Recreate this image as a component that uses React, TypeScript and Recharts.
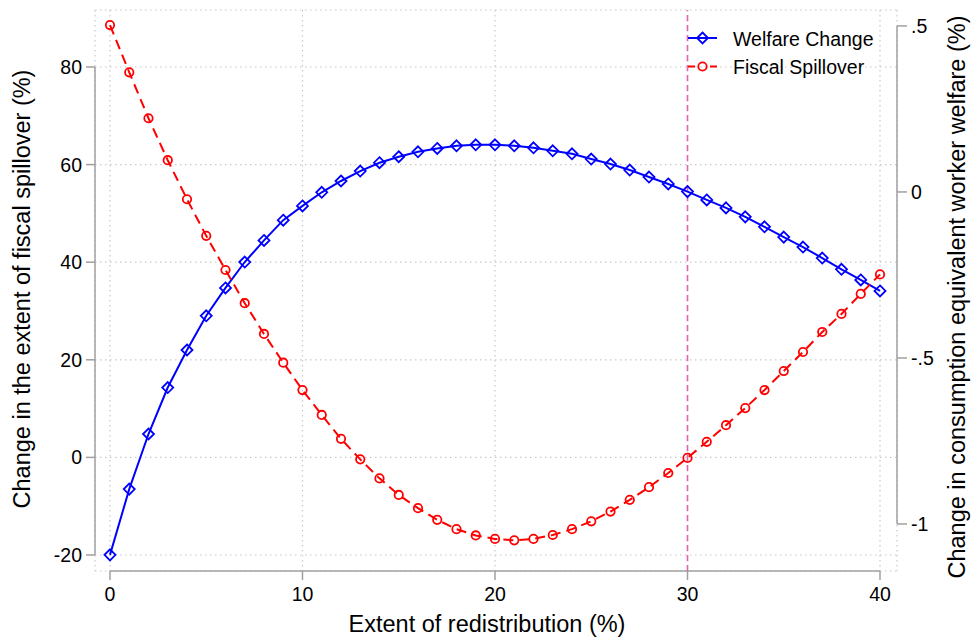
import React from 'react';
import { ComposedChart, Line, XAxis, YAxis, CartesianGrid, ReferenceLine, Label } from 'recharts';

const redistribution = [0,1,2,3,4,5,6,7,8,9,10,11,12,13,14,15,16,17,18,19,20,21,22,23,24,25,26,27,28,29,30,31,32,33,34,35,36,37,38,39,40];
const fiscalSpillover = [88.6,78.9,69.5,60.9,52.9,45.4,38.4,31.6,25.3,19.4,13.8,8.7,3.8,-0.4,-4.3,-7.7,-10.4,-12.8,-14.7,-16.0,-16.7,-17.0,-16.7,-15.9,-14.7,-13.1,-11.1,-8.7,-6.1,-3.2,-0.1,3.2,6.6,10.1,13.8,17.7,21.6,25.7,29.4,33.5,37.5];
const welfareChange = [-1.093,-0.895,-0.729,-0.589,-0.476,-0.373,-0.289,-0.211,-0.146,-0.085,-0.042,-0.001,0.033,0.063,0.088,0.106,0.121,0.131,0.139,0.142,0.142,0.139,0.133,0.124,0.115,0.099,0.084,0.066,0.045,0.024,0.001,-0.024,-0.048,-0.075,-0.105,-0.136,-0.166,-0.199,-0.233,-0.265,-0.298];
const xTicks = [0,10,20,30,40];
const leftTicks = [-20,0,20,40,60,80];
const rightTicks = [-1,-0.5,0,0.5];
const markerLine = 30;
const legendLabels = ['Welfare Change', 'Fiscal Spillover'];

const data = redistribution.map((x, i) => ({ x, fiscal: fiscalSpillover[i], welfare: welfareChange[i] }));

const X_DOMAIN: [number, number] = [-0.779, 40.883];
const LEFT_DOMAIN: [number, number] = [-23.28, 91.68];
const RIGHT_DOMAIN: [number, number] = [-1.1416, 0.548];

const BLUE = '#0000ff';
const RED = '#ff0000';
const PINK = '#e065ab';
const AXIS = '#a0a0a0';
const FONT = '"Liberation Sans", Arial, sans-serif';

const Diamond = (props: any) => {
  const { cx, cy, index } = props;
  if (cx == null || cy == null) return <g key={`d${index}`} />;
  const r = 5.5;
  return <path key={`d${index}`} d={`M${cx},${cy - r}L${cx + r},${cy}L${cx},${cy + r}L${cx - r},${cy}Z`} fill="none" stroke={BLUE} strokeWidth={1.8} />;
};

const Circ = (props: any) => {
  const { cx, cy, index } = props;
  if (cx == null || cy == null) return <g key={`c${index}`} />;
  return <circle key={`c${index}`} cx={cx} cy={cy} r={4.2} fill="none" stroke={RED} strokeWidth={1.8} />;
};

const fmtRight = (v: number) => (v === 0 ? '0' : String(v).replace('0.', '.'));

const LegendBox = () => (
  <g transform="translate(680,20)" fontFamily={FONT}>
    <line x1={8} y1={18} x2={37} y2={18} stroke={BLUE} strokeWidth={2} />
    <path d="M22.5,12.5L28,18L22.5,23.5L17,18Z" fill="none" stroke={BLUE} strokeWidth={1.8} />
    <text x={53} y={25.5} fontSize={19.5} fill="#000">{legendLabels[0]}</text>
    <line x1={8} y1={46.5} x2={15} y2={46.5} stroke={RED} strokeWidth={2} />
    <line x1={30} y1={46.5} x2={37} y2={46.5} stroke={RED} strokeWidth={2} />
    <circle cx={22.5} cy={46.5} r={4.2} fill="none" stroke={RED} strokeWidth={1.8} />
    <text x={53} y={54} fontSize={19.5} fill="#000">{legendLabels[1]}</text>
  </g>
);

export default function App() {
  return (
    <div style={{ position: 'absolute', left: 0, top: 0, width: 974, height: 640, background: '#fff', fontFamily: FONT }}>
      <ComposedChart width={974} height={640} data={data} margin={{ top: 10, right: 0, bottom: 0, left: 0 }} style={{ fontFamily: FONT }}>
        <CartesianGrid yAxisId="left" stroke="#c8c8c8" strokeDasharray="1.5 3.5" strokeWidth={1.2} />
        <XAxis
          dataKey="x"
          type="number"
          domain={X_DOMAIN}
          allowDataOverflow
          ticks={xTicks}
          height={69}
          axisLine={false}
          tickLine={{ stroke: AXIS, strokeWidth: 1.5 }}
          tickSize={9}
          tickMargin={7}
          tick={{ fontSize: 19.5, fill: '#000' }}
        >
          <Label content={() => <text x={487} y={632} textAnchor="middle" fontSize={23.5} fill="#000" fontFamily={FONT}>Extent of redistribution (%)</text>} />
        </XAxis>
        <YAxis
          yAxisId="left"
          orientation="left"
          type="number"
          domain={LEFT_DOMAIN}
          allowDataOverflow
          ticks={leftTicks}
          width={95}
          axisLine={false}
          tickLine={{ stroke: AXIS, strokeWidth: 1.5 }}
          tickSize={9}
          tickMargin={4}
          tick={{ fontSize: 19.5, fill: '#000' }}
        >
          <Label content={() => <text x={30} y={289} transform="rotate(-90 30 289)" textAnchor="middle" fontSize={23.5} fill="#000" fontFamily={FONT}>Change in the extent of fiscal spillover (%)</text>} />
        </YAxis>
        <YAxis
          yAxisId="right"
          orientation="right"
          type="number"
          domain={RIGHT_DOMAIN}
          allowDataOverflow
          ticks={rightTicks}
          tickFormatter={fmtRight}
          width={77}
          axisLine={false}
          tickLine={{ stroke: AXIS, strokeWidth: 1.5 }}
          tickSize={10}
          tickMargin={4}
          tick={{ fontSize: 19.5, fill: '#000' }}
        >
          <Label content={() => <text x={965} y={297} transform="rotate(-90 965 297)" textAnchor="middle" fontSize={23.5} fill="#000" fontFamily={FONT}>Change in consumption equivalent worker welfare (%)</text>} />
        </YAxis>
        <ReferenceLine yAxisId="left" segment={[{ x: X_DOMAIN[0], y: 80 }, { x: X_DOMAIN[0], y: -20 }]} stroke={AXIS} strokeWidth={1.5} ifOverflow="visible" />
        <ReferenceLine yAxisId="left" segment={[{ x: 0, y: LEFT_DOMAIN[0] }, { x: 40, y: LEFT_DOMAIN[0] }]} stroke={AXIS} strokeWidth={1.5} ifOverflow="visible" />
        <ReferenceLine yAxisId="right" segment={[{ x: X_DOMAIN[1], y: 0.5 }, { x: X_DOMAIN[1], y: -1 }]} stroke={AXIS} strokeWidth={1.5} ifOverflow="visible" />
        <ReferenceLine yAxisId="left" x={markerLine} stroke={PINK} strokeWidth={1.6} strokeDasharray="6 4" label={<LegendBox />} />
        <Line yAxisId="right" dataKey="welfare" type="linear" stroke={BLUE} strokeWidth={2} dot={Diamond} activeDot={false} isAnimationActive={false} />
        <Line yAxisId="left" dataKey="fiscal" type="linear" stroke={RED} strokeWidth={2} strokeDasharray="10 6" dot={Circ} activeDot={false} isAnimationActive={false} />
      </ComposedChart>
    </div>
  );
}
